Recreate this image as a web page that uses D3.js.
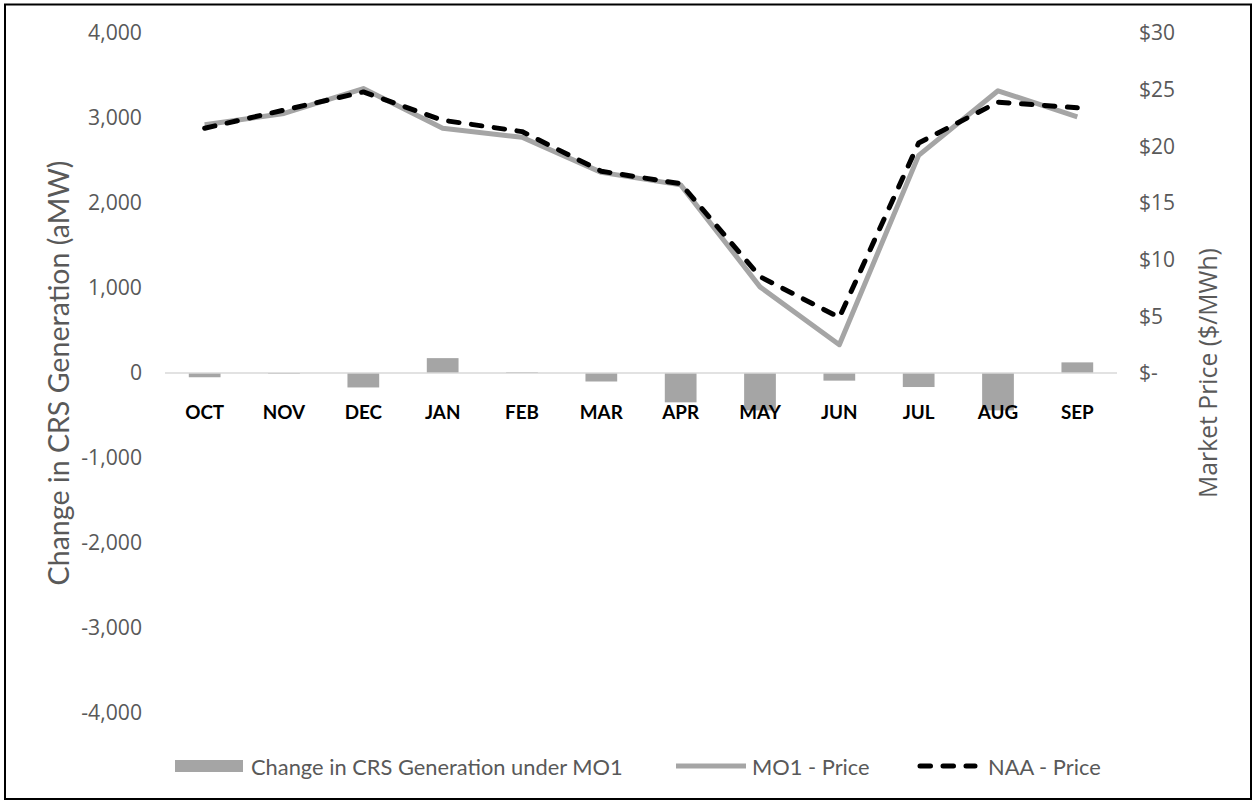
<!DOCTYPE html>
<html><head><meta charset="utf-8">
<script src="https://cdn.jsdelivr.net/npm/d3@7"></script>
<style>
html,body{margin:0;padding:0;background:#fff;}
svg{display:block;}
</style></head>
<body>
<svg id="chart" width="1253" height="801"></svg>
<script>
const months = ["OCT","NOV","DEC","JAN","FEB","MAR","APR","MAY","JUN","JUL","AUG","SEP"];
const crsChange = [-50, -10, -170, 175, 10, -100, -345, -440, -90, -165, -440, 125];
const mo1Price = [21.9, 22.9, 25.1, 21.6, 20.8, 17.7, 16.6, 7.6, 2.5, 19.2, 24.9, 22.6];
const naaPrice = [21.6, 23.2, 24.8, 22.3, 21.3, 17.8, 16.7, 8.5, 4.9, 20.3, 23.9, 23.4];
const leftTicks = [-4000,-3000,-2000,-1000,0,1000,2000,3000,4000];
const rightTicks = [0,5,10,15,20,25,30];
const seriesNames = ["Change in CRS Generation under MO1","MO1 - Price","NAA - Price"];

const svg = d3.select("#chart");
const plot = {left:165, right:1117, top:33, bottom:713};
const grey = "#595959";
const fontA = "Lato, 'Open Sans', sans-serif";        // Calibri-like
const fontB = "'Open Sans', 'Noto Sans', sans-serif";  // Segoe-like

function fitSize(sel, target, base) {
  const n = sel.node();
  const w = n.getComputedTextLength();
  return base * target / w;
}

svg.append("rect").attr("x",5).attr("y",4.5).attr("width",1246).attr("height",794.5)
  .attr("fill","#fff").attr("stroke","#000").attr("stroke-width",2);

const x = d3.scaleBand().domain(months).range([plot.left, plot.right]).paddingInner(0.6).paddingOuter(0.3);
const xc = d => x(d) + x.bandwidth()/2;
const yL = d3.scaleLinear().domain([-4000,4000]).range([plot.bottom, plot.top]);
const yR = d3.scaleLinear().domain([-30,30]).range([plot.bottom, plot.top]);

// left axis labels
const fmtL = d3.format(",");
const axL = d3.axisLeft(yL).tickValues(leftTicks).tickSize(0).tickPadding(0).tickFormat(d => fmtL(d).replace("\u2212","-"));
const gL = svg.append("g").attr("transform",`translate(142,0)`).call(axL);
gL.select(".domain").remove();
gL.selectAll("text").attr("fill",grey).attr("font-family",fontB).attr("font-size",20);
{
  const t = gL.selectAll("text").filter(d => d === 4000);
  const fs = fitSize(t, 54, 20);
  gL.selectAll("text").attr("font-size",fs);
}

// right axis labels
const axR = d3.axisRight(yR).tickValues(rightTicks).tickSize(0).tickPadding(0)
  .tickFormat(d => d === 0 ? "$-" : "$" + d);
const gR = svg.append("g").attr("transform",`translate(1139,0)`).call(axR);
gR.select(".domain").remove();
gR.selectAll("text").attr("fill",grey).attr("font-family",fontB).attr("font-size",20);
{
  const t = gR.selectAll("text").filter(d => d === 30);
  const fs = fitSize(t, 36, 20);
  gR.selectAll("text").attr("font-size",fs);
}

// axis titles
const tL = svg.append("text").attr("transform",`translate(58,${yL(0)}) rotate(-90)`)
  .attr("text-anchor","middle").attr("dominant-baseline","central")
  .attr("fill",grey).attr("font-family",fontA).attr("font-size",24).text("Change in CRS Generation (aMW)");
tL.attr("font-size", fitSize(tL, 425, 24));
const tR = svg.append("text").attr("transform",`translate(1207,${yL(0)}) rotate(-90)`)
  .attr("text-anchor","middle").attr("dominant-baseline","central")
  .attr("fill",grey).attr("font-family",fontB).attr("font-size",22).text("Market Price ($/MWh)");
tR.attr("font-size", fitSize(tR, 250, 22));

// bars
svg.append("g").selectAll("rect").data(months).join("rect")
  .attr("x", d => x(d))
  .attr("width", x.bandwidth())
  .attr("y", (d,i) => Math.min(yL(crsChange[i]), yL(0)))
  .attr("height", (d,i) => Math.abs(yL(crsChange[i]) - yL(0)))
  .attr("fill","#A5A5A5");

// zero line
svg.append("line").attr("x1",plot.left).attr("x2",plot.right).attr("y1",yL(0)).attr("y2",yL(0))
  .attr("stroke","#D9D9D9").attr("stroke-width",1.5);

// category labels
const cats = svg.append("g").selectAll("text").data(months).join("text")
  .attr("x", d => xc(d)).attr("y", 411).attr("text-anchor","middle").attr("dominant-baseline","central")
  .attr("fill","#000").attr("font-family",fontA).attr("font-weight","bold").attr("font-size",20).text(d => d);
{
  const fs = fitSize(cats.filter(d => d === "OCT"), 39, 20);
  cats.attr("font-size", fs);
}

// lines
const line = d3.line().x((d,i) => xc(months[i])).y(d => yR(d));
svg.append("path").datum(mo1Price).attr("d",line).attr("fill","none")
  .attr("stroke","#A5A5A5").attr("stroke-width",5).attr("stroke-linejoin","round");
svg.append("path").datum(naaPrice).attr("d",line).attr("fill","none")
  .attr("stroke","#000").attr("stroke-width",5).attr("stroke-dasharray","10.5,12.5").attr("stroke-linecap","round").attr("stroke-linejoin","round");

// legend
const ly = 766;
const lg = svg.append("g");
lg.append("rect").attr("x",175).attr("y",ly-6).attr("width",68).attr("height",12).attr("fill","#A5A5A5");
const l1 = lg.append("text").attr("x",251).attr("y",ly).attr("dominant-baseline","central").attr("fill",grey)
  .attr("font-family",fontA).attr("font-size",24).text(seriesNames[0]);
const lfs = fitSize(l1, 372, 24);
l1.attr("font-size", lfs);
lg.append("line").attr("x1",676).attr("x2",746).attr("y1",ly).attr("y2",ly).attr("stroke","#A5A5A5").attr("stroke-width",5);
lg.append("text").attr("x",752).attr("y",ly).attr("dominant-baseline","central").attr("fill",grey)
  .attr("font-family",fontA).attr("font-size",lfs).text(seriesNames[1]);
lg.append("line").attr("x1",920).attr("x2",975).attr("y1",ly).attr("y2",ly).attr("stroke","#000").attr("stroke-width",5)
  .attr("stroke-dasharray","10.5,12.5").attr("stroke-linecap","round");
lg.append("text").attr("x",988).attr("y",ly).attr("dominant-baseline","central").attr("fill",grey)
  .attr("font-family",fontA).attr("font-size",lfs).text(seriesNames[2]);
</script>
</body></html>
